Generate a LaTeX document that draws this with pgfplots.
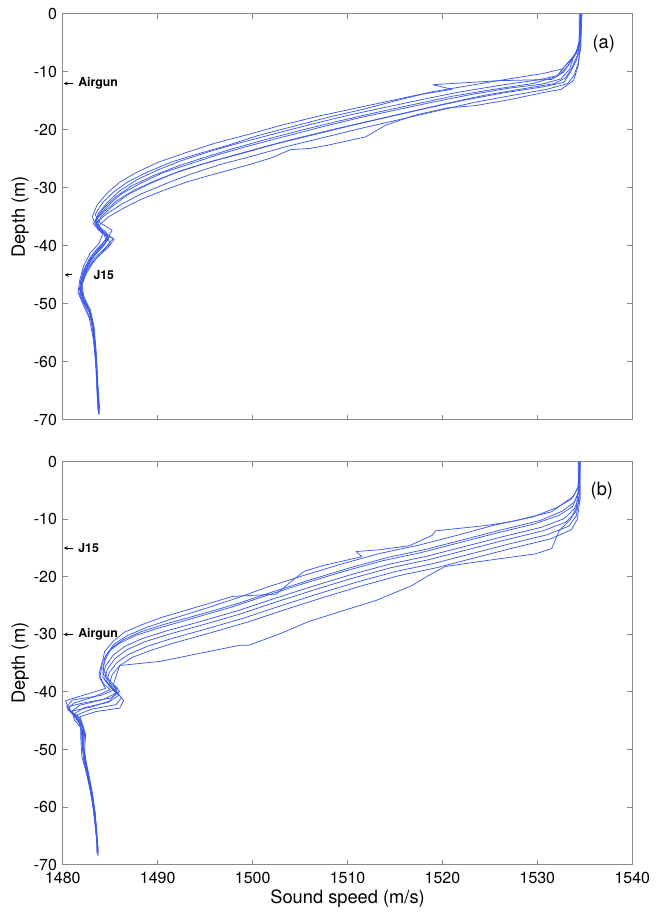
\documentclass[border=0pt]{standalone}
\usepackage{fontspec}
\setmainfont{TeX Gyre Heros}
\usepackage{pgfplots}
\pgfplotsset{compat=1.18}
\usetikzlibrary{arrows.meta}
\definecolor{prof}{HTML}{3C5AEB}
\definecolor{frame}{HTML}{8A8A8A}
\pgfplotsset{
 ssp/.style={prof,line width=0.45pt,line join=round},
 panel/.style={scale only axis,width=342.6pt,
  xmin=1480,xmax=1540,ymin=-70,ymax=0,
  xtick={1480,1490,...,1540},ytick={-70,-60,...,0},
  axis line style={frame,line width=0.6pt},
  tick style={frame,line width=0.6pt},
  major tick length=3pt,tick align=inside,
  xtick pos=both,ytick pos=both,
  /pgf/number format/assume math mode=true,
  /pgf/number format/1000 sep={},
  tick label style={font=\fontsize{9.6}{11}\selectfont},
  label style={font=\fontsize{11}{13}\selectfont},
  ylabel={Depth (m)},
  ylabel style={at={(axis description cs:-0.075,0.5)},anchor=center},
  no markers},
}
\tikzset{ann/.style={font=\fontsize{7.4}{9}\selectfont\bfseries,inner sep=0pt,anchor=west},
 annarr/.style={-{Stealth[length=2.4pt,width=2.2pt]},line width=0.5pt}}
\begin{document}
\begin{tikzpicture}
% ---------- (a) ----------
\begin{axis}[panel,name=a,height=244.2pt,xticklabels={}]
\addplot[ssp] coordinates {(1534.7,0) (1534.6,-4) (1534.3,-6) (1533.5,-8) (1532.6,-9.5) (1530.5,-10.3) (1527,-11.2) (1523,-12.3) (1519,-13.4) (1515,-14.8) (1511,-16.2) (1507,-17.6) (1503,-19.2) (1499.5,-20.8) (1496,-22.3) (1493,-23.9) (1490,-25.6) (1487.8,-27.3) (1486,-29) (1484.6,-31) (1483.6,-33) (1483.1,-35) (1483.5,-36.5) (1484.5,-37.5) (1484.8,-38.8) (1484,-40.2) (1483.2,-41.8) (1482.4,-43.8) (1481.9,-46) (1481.7,-48) (1482.3,-50) (1483,-52) (1483.3,-55) (1483.5,-59) (1483.6,-63) (1483.7,-68.5)};
\addplot[ssp] coordinates {(1534.6,0) (1534.5,-4.5) (1534.2,-6.5) (1533.4,-8.5) (1532.8,-10) (1531.5,-11.3) (1526,-11.5) (1519,-12.2) (1521,-13) (1518,-13.8) (1515,-15) (1511.5,-16.5) (1508,-17.8) (1504,-19.5) (1500.5,-21) (1497.5,-22.6) (1494.5,-24) (1491.5,-25.5) (1489,-27.2) (1487,-28.8) (1485.5,-30.5) (1484.2,-32.5) (1483.4,-34.6) (1483.9,-36) (1485.2,-37.3) (1484.6,-38.9) (1483.6,-40.5) (1482.8,-42.2) (1482.1,-44.5) (1481.8,-47) (1482.1,-49) (1482.9,-51.5) (1483.2,-54.5) (1483.5,-58.5) (1483.6,-63.5) (1483.8,-69)};
\addplot[ssp] coordinates {(1534.5,0) (1534.4,-5) (1534,-7) (1533.2,-9) (1532.2,-10.6) (1530,-11.4) (1526.5,-12.2) (1522,-13.4) (1518,-14.7) (1514,-16.1) (1510,-17.5) (1506,-19.1) (1502,-20.8) (1498.5,-22.3) (1495.5,-23.7) (1492.5,-25.3) (1490,-26.9) (1487.8,-28.6) (1486,-30.5) (1484.7,-32.5) (1483.7,-34.5) (1483.5,-36.3) (1484.3,-37.8) (1484.6,-39.2) (1483.8,-40.8) (1482.9,-42.5) (1482.2,-44.8) (1481.9,-47.2) (1482.4,-49.6) (1483,-52) (1483.3,-55.5) (1483.5,-60) (1483.7,-65) (1483.8,-68.8)};
\addplot[ssp] coordinates {(1534.6,0) (1534.5,-4) (1534.1,-6.8) (1533,-8.8) (1532,-10.8) (1529.5,-12) (1525,-13.1) (1521,-14.2) (1517,-15.6) (1513,-17) (1509,-18.5) (1505,-20.1) (1501.5,-21.6) (1498,-23.2) (1495,-24.7) (1492,-26.3) (1489.5,-27.9) (1487.3,-29.6) (1485.6,-31.5) (1484.3,-33.5) (1483.5,-35.3) (1483.9,-37) (1484.7,-38.4) (1484.1,-39.8) (1483.2,-41.5) (1482.4,-43.6) (1481.9,-46) (1481.9,-48.2) (1482.6,-50.5) (1483.1,-53) (1483.4,-57) (1483.6,-61) (1483.7,-66) (1483.8,-69)};
\addplot[ssp] coordinates {(1534.4,0) (1534.4,-5.5) (1533.8,-7.5) (1533.4,-9.5) (1532.5,-11.2) (1530.5,-12.1) (1527,-12.8) (1523,-13.9) (1519,-15.2) (1515,-16.6) (1511,-18) (1507,-19.6) (1503,-21.3) (1499.5,-22.8) (1496.5,-24.2) (1493.5,-25.8) (1490.5,-27.4) (1488.2,-29.2) (1486.2,-31) (1484.8,-33) (1483.8,-34.8) (1483.2,-36.2) (1484,-37.6) (1485.3,-38.7) (1484.5,-40.3) (1483.4,-42) (1482.5,-44.2) (1482,-46.4) (1482.2,-48.8) (1482.9,-51) (1483.3,-54) (1483.5,-58) (1483.7,-64) (1483.9,-68.5)};
\addplot[ssp] coordinates {(1534.6,0) (1534.5,-5) (1534.2,-7.2) (1533.6,-9.4) (1533,-11) (1531.8,-12) (1528.5,-12.9) (1524.5,-14) (1520.5,-15.4) (1516.5,-16.9) (1512.5,-18.4) (1508.5,-19.9) (1504.5,-21.5) (1501,-23) (1497.5,-24.6) (1494.5,-26) (1491.5,-27.6) (1489,-29.4) (1486.8,-31.2) (1485.2,-33.2) (1484,-35) (1483.6,-36.6) (1484.2,-38) (1483.8,-39.6) (1482.9,-41.2) (1482.2,-43.4) (1481.8,-45.8) (1481.6,-48) (1482.1,-50) (1482.8,-52.5) (1483.2,-56) (1483.5,-60.5) (1483.6,-65.5) (1483.8,-69)};
\addplot[ssp] coordinates {(1534.5,0) (1534.5,-6) (1534.1,-8) (1533.5,-10) (1532.8,-11.8) (1530.5,-12.6) (1526.5,-13.6) (1522.5,-14.8) (1518.5,-16.2) (1514.5,-17.7) (1510.5,-19.2) (1506.5,-20.8) (1502.5,-22.4) (1499,-24) (1495.5,-25.5) (1492.5,-27) (1489.8,-28.7) (1487.5,-30.4) (1485.7,-32.2) (1484.4,-34) (1483.4,-35.6) (1483.7,-37.2) (1484.9,-38.5) (1484.3,-40) (1483.3,-41.7) (1482.5,-43.9) (1482,-46.2) (1482,-48.5) (1482.7,-50.8) (1483.1,-53.5) (1483.4,-57.5) (1483.6,-62) (1483.7,-67) (1483.8,-69)};
\addplot[ssp] coordinates {(1534.6,0) (1534.6,-5.5) (1534.3,-8.5) (1533.9,-10.5) (1533.2,-12) (1531,-13) (1527.5,-14) (1523.5,-15.2) (1519.5,-16.7) (1515.5,-18.2) (1511.5,-19.7) (1507.5,-21.3) (1503.5,-22.9) (1500,-24.5) (1496.5,-26) (1493.5,-27.6) (1490.8,-29.3) (1488.3,-31) (1486.2,-32.8) (1484.6,-34.5) (1483.5,-36) (1484.2,-37.4) (1485.4,-38.9) (1484.7,-40.4) (1483.6,-42) (1482.6,-44) (1482,-46.5) (1481.8,-48.6) (1482.4,-50.6) (1483,-53) (1483.3,-56.5) (1483.5,-61.5) (1483.7,-66.5) (1483.8,-69)};
\addplot[ssp] coordinates {(1534.6,0) (1534.5,-6) (1534.3,-9) (1533.8,-11.5) (1532.5,-13) (1530.5,-13.6) (1527,-14.8) (1523.5,-15.8) (1520.5,-16.2) (1517,-17.5) (1514,-19.2) (1511.9,-21.2) (1508,-22.6) (1506,-23.2) (1504,-23.4) (1502,-24.8) (1499.6,-26) (1496,-27.6) (1493,-29) (1490.5,-30.5) (1488.2,-32) (1486.4,-33.5) (1484.8,-35) (1483.8,-36.5) (1484.5,-38.2) (1485,-39.5) (1484.2,-41) (1483.2,-42.8) (1482.4,-45) (1481.9,-47.3) (1482.3,-49.8) (1483,-52) (1483.3,-55) (1483.5,-60) (1483.7,-65) (1483.8,-68.5)};
\node[font=\fontsize{11}{13}\selectfont] at (axis cs:1537,-5.1) {(a)};
\draw[annarr] (axis cs:1481.1,-12) -- (axis cs:1480.1,-12);
\node[ann] at (axis cs:1481.6,-12) {Airgun};
\draw[annarr] (axis cs:1481.0,-45) -- (axis cs:1480.2,-45);
\node[ann] at (axis cs:1483.2,-45) {J15};
\end{axis}
% ---------- (b) ----------
\begin{axis}[panel,name=b,height=242.4pt,at={(a.south west)},anchor=north west,yshift=-25.2pt,
 xticklabel style={yshift=-1pt},
 xlabel={Sound speed (m/s)},
 xlabel style={at={(axis description cs:0.5,-0.084)},anchor=center}]
\addplot[ssp] coordinates {(1534.5,0) (1534.4,-4) (1533.8,-6) (1531.5,-8.7) (1527.3,-10.4) (1524.5,-11.1) (1519.3,-12) (1518.9,-12.8) (1516.5,-14.6) (1513.3,-15.3) (1510.9,-15.6) (1511.5,-16.5) (1507.5,-18) (1505.5,-19) (1504.2,-20.6) (1502.5,-23) (1497.9,-23.4) (1494,-25.3) (1490.5,-27) (1488.5,-28.2) (1486.5,-29.6) (1485.3,-31.2) (1484.4,-33) (1484.1,-35.5) (1483.9,-37.6) (1484.5,-39.4) (1482.5,-40.4) (1480.3,-41.5) (1480.6,-43) (1481.8,-44.5) (1482.2,-46.5) (1482.1,-49.5) (1482.4,-53) (1482.8,-56) (1483.1,-59) (1483.4,-62.5) (1483.6,-65.5) (1483.7,-67.8)};
\addplot[ssp] coordinates {(1534.4,0) (1534.3,-4.5) (1533.6,-6.5) (1532,-8) (1529.5,-9.6) (1525.5,-11) (1521.5,-12.8) (1517.5,-14.5) (1513.5,-15.9) (1509.5,-17.7) (1505.5,-19.7) (1501.5,-21.8) (1498.5,-23.6) (1495,-25.5) (1491.5,-27.3) (1488.8,-28.8) (1486.8,-30.2) (1485.4,-31.7) (1484.5,-33.8) (1484.2,-36) (1484.9,-38) (1485.8,-39.4) (1484,-40.6) (1481,-41.4) (1480.4,-42.6) (1481.2,-44) (1481.9,-45.6) (1482,-48) (1482.3,-51) (1482.7,-54) (1483.1,-57.5) (1483.4,-61) (1483.5,-64) (1483.7,-67.5)};
\addplot[ssp] coordinates {(1534.5,0) (1534.4,-5) (1533.9,-7) (1532.6,-8.6) (1530.3,-10.2) (1526.3,-11.8) (1522.3,-13.5) (1518.3,-15.2) (1514.3,-16.6) (1510.3,-18.4) (1506.3,-20.4) (1502.3,-22.5) (1498.3,-24.7) (1494.3,-26.6) (1490.8,-28.2) (1488.3,-29.5) (1486.4,-30.9) (1485.1,-32.4) (1484.4,-34.6) (1484.2,-36.8) (1485,-38.5) (1486,-39.9) (1485.2,-41) (1482.5,-41.8) (1480.6,-42.5) (1481,-43.8) (1481.7,-45.3) (1482.1,-47.5) (1482.2,-50.5) (1482.5,-53.5) (1482.9,-56.5) (1483.3,-60) (1483.5,-63) (1483.6,-66.5) (1483.7,-68.2)};
\addplot[ssp] coordinates {(1534.3,0) (1534.3,-5.5) (1533.7,-7.8) (1532.3,-9.3) (1529.7,-10.8) (1525.7,-12.4) (1521.7,-14.1) (1517.7,-15.8) (1513.7,-17.2) (1509.7,-19) (1505.7,-21) (1501.7,-23.1) (1497.7,-25.3) (1493.7,-27.2) (1490.3,-28.8) (1487.8,-30.1) (1486,-31.5) (1484.8,-33) (1484.1,-35) (1483.8,-37) (1484.3,-38.6) (1485,-39.6) (1483.2,-40.9) (1481.2,-41.9) (1480.5,-43) (1481.3,-44.3) (1481.9,-45.9) (1481.9,-48.3) (1482,-51.2) (1482.5,-54.2) (1482.9,-57.2) (1483.2,-60.2) (1483.4,-63.2) (1483.6,-66.2) (1483.6,-68)};
\addplot[ssp] coordinates {(1534.4,0) (1534.4,-6) (1533.9,-8.2) (1532.8,-9.9) (1530.4,-11.4) (1526.4,-13) (1522.4,-14.7) (1518.4,-16.4) (1514.4,-17.8) (1510.4,-19.6) (1506.4,-21.6) (1502.4,-23.7) (1498.4,-25.9) (1494.4,-27.8) (1490.9,-29.4) (1488.4,-30.7) (1486.5,-32.1) (1485.3,-33.6) (1484.5,-35.5) (1484.2,-37.4) (1484.9,-39) (1485.6,-40.2) (1484.3,-41.3) (1481.8,-42.3) (1480.9,-43.4) (1481.6,-44.7) (1482.1,-46.3) (1482,-48.8) (1482.2,-51.8) (1482.6,-54.8) (1483,-57.8) (1483.3,-60.8) (1483.5,-63.8) (1483.6,-66.5) (1483.7,-68.3)};
\addplot[ssp] coordinates {(1534.5,0) (1534.5,-6.5) (1534,-8.8) (1533,-10.5) (1530.6,-12) (1526.6,-13.6) (1522.6,-15.3) (1518.6,-17) (1514.6,-18.4) (1510.6,-20.2) (1506.6,-22.2) (1502.6,-24.3) (1498.6,-26.5) (1494.6,-28.4) (1491.1,-30) (1488.6,-31.3) (1486.7,-32.7) (1485.5,-34.2) (1484.7,-36) (1484.4,-37.8) (1485.1,-39.3) (1485.9,-40.6) (1484.8,-41.8) (1482.3,-42.7) (1481.2,-43.8) (1481.8,-45.1) (1482.2,-46.7) (1482.1,-49.2) (1482.3,-52.2) (1482.7,-55.2) (1483.1,-58.2) (1483.3,-61.2) (1483.5,-64.2) (1483.7,-67) (1483.7,-68.5)};
\addplot[ssp] coordinates {(1534.4,0) (1534.4,-6) (1534.1,-9.4) (1533.3,-11.2) (1531,-12.7) (1527,-14.3) (1523,-16) (1519,-17.7) (1515,-19.1) (1511,-20.9) (1507,-22.9) (1503,-25) (1499,-27.2) (1495,-29.1) (1491.5,-30.7) (1489,-32) (1487,-33.4) (1485.7,-34.9) (1484.9,-36.6) (1484.6,-38.2) (1485.4,-39.7) (1486.2,-41) (1485.6,-42.2) (1483,-43) (1481.5,-44) (1482,-45.4) (1482.3,-47) (1482.2,-49.6) (1482.4,-52.6) (1482.8,-55.6) (1483.1,-58.6) (1483.4,-61.6) (1483.5,-64.6) (1483.7,-67.3)};
\addplot[ssp] coordinates {(1534.5,0) (1534.5,-6.5) (1534.2,-10) (1533.6,-11.8) (1531.4,-13.4) (1527.4,-15) (1523.4,-16.7) (1519.4,-18.4) (1515.4,-19.8) (1511.4,-21.6) (1507.4,-23.6) (1503.4,-25.7) (1499.4,-27.9) (1495.4,-29.8) (1491.9,-31.4) (1489.4,-32.7) (1487.3,-34) (1486,-35.4) (1485.2,-37) (1484.9,-38.6) (1485.8,-40.2) (1486.4,-41.5) (1486,-42.8) (1483.5,-43.4) (1481.8,-44.3) (1482.1,-45.8) (1482.4,-47.4) (1482.3,-50) (1482.5,-53) (1482.9,-56) (1483.2,-59) (1483.4,-62) (1483.6,-65) (1483.7,-67.6)};
\addplot[ssp] coordinates {(1534.4,0) (1534.3,-5) (1534.1,-8) (1533.5,-10) (1532.3,-12) (1531.5,-15.1) (1529.8,-16) (1524.1,-17.3) (1520.3,-18.2) (1518.6,-19.7) (1516.8,-21.5) (1513,-24.1) (1509.5,-25.9) (1506,-27.7) (1503,-29.8) (1499.6,-31.9) (1498.6,-31.9) (1496.5,-32.6) (1494.4,-33.3) (1490.2,-34.7) (1486,-35.4) (1485.3,-38.8) (1485.7,-39.9) (1484.9,-41.6) (1483,-42.6) (1481,-43.3) (1481.2,-44.8) (1481.9,-46.2) (1482.1,-48.5) (1482.3,-51.5) (1482.7,-54.5) (1483.1,-57.5) (1483.4,-61) (1483.6,-64.5) (1483.6,-67.8)};
\node[font=\fontsize{11}{13}\selectfont] at (axis cs:1536.8,-5.1) {(b)};
\draw[annarr] (axis cs:1481.1,-15) -- (axis cs:1480.1,-15);
\node[ann] at (axis cs:1481.6,-15) {J15};
\draw[annarr] (axis cs:1481.1,-30) -- (axis cs:1480.1,-30);
\node[ann] at (axis cs:1481.6,-30) {Airgun};
\end{axis}
\pgfresetboundingbox
\path[use as bounding box] ([xshift=-37.8pt,yshift=8.4pt]a.north west) rectangle ([xshift=17.4pt,yshift=-28.5pt]b.south east);
\end{tikzpicture}
\end{document}
